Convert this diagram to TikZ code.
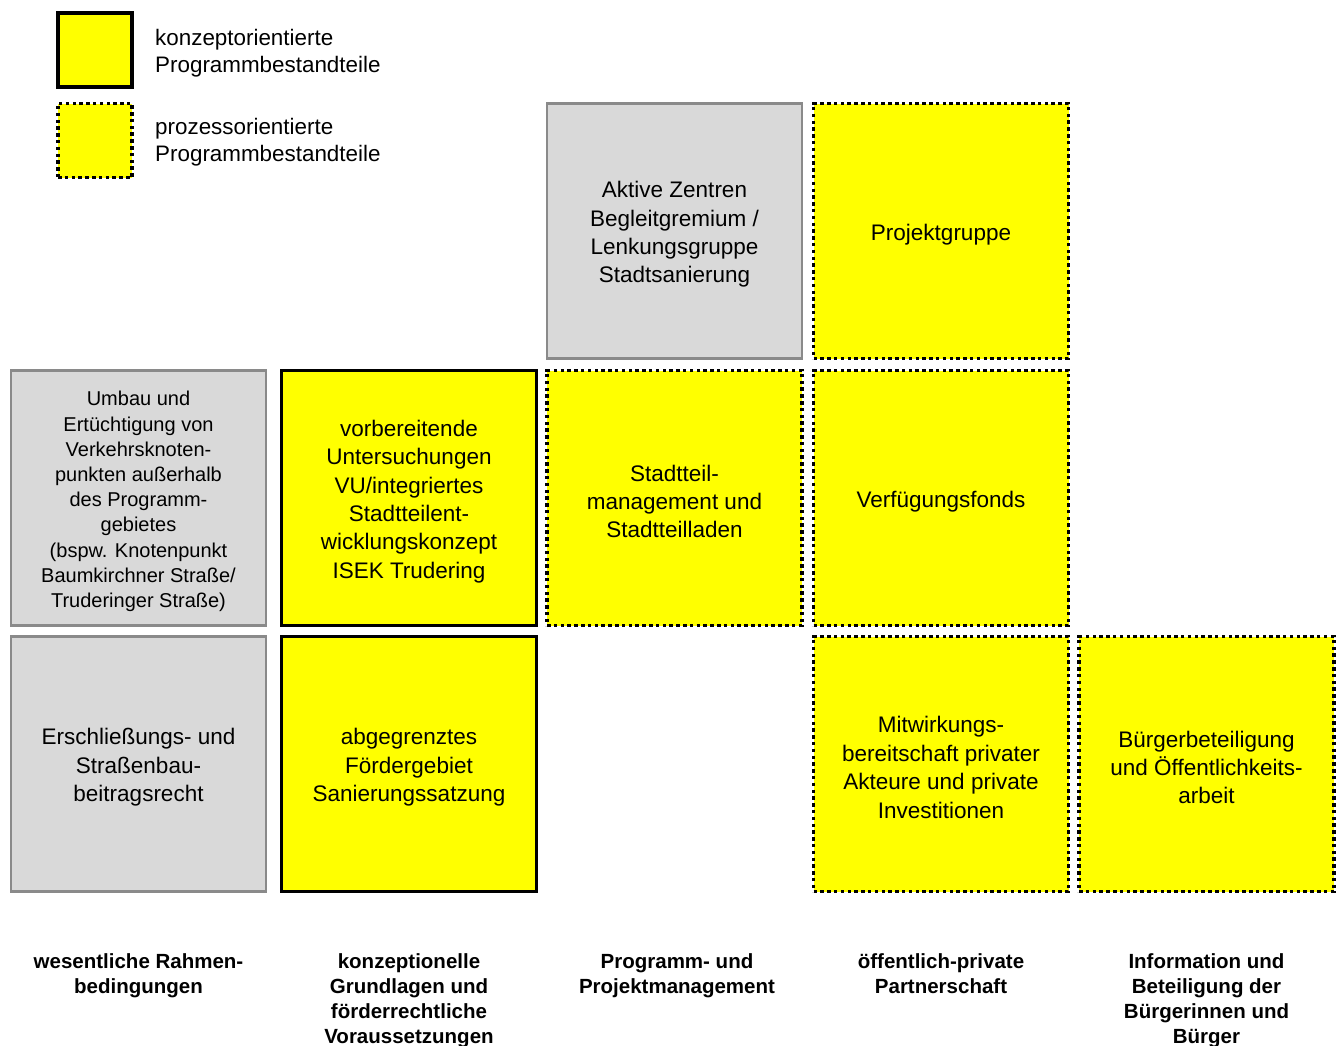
\documentclass[tikz,border=0pt]{standalone}
\usepackage{fontspec}
\setmainfont{Liberation Sans}
\definecolor{boxyellow}{HTML}{FFFF00}
\definecolor{boxgrey}{HTML}{D9D9D9}
\definecolor{greyline}{HTML}{8A8A8A}
\begin{document}
\begin{tikzpicture}[x=1pt,y=-1pt,
  cell/.style={rectangle, minimum width=255pt, minimum height=255pt, inner sep=0pt},
  greybox/.style={cell, fill=boxgrey, draw=greyline, line width=2.2pt},
  solidbox/.style={cell, fill=boxyellow, draw=black, line width=3.2pt},
  dotbox/.style={cell, fill=boxyellow, draw=black, line width=3.8pt, dash pattern=on 3.5pt off 3.3pt},
  celltext/.style={align=center, inner sep=0pt, yshift=-3.5pt, font=\fontsize{22.5}{28.4}\selectfont},
  legsolid/.style={solidbox, minimum width=74pt, minimum height=74pt},
  legdot/.style={dotbox, minimum width=74pt, minimum height=74pt},
  legtext/.style={anchor=west, align=left, inner sep=0pt, font=\fontsize{22.4}{27}\selectfont},
  collabel/.style={anchor=north, align=center, inner sep=0pt, font=\bfseries\fontsize{20.5}{25}\selectfont}
]
\useasboundingbox (0,0) rectangle (1337,1045);
% legend
\node[legsolid] (l1) at (95,50) {};
\node[legdot] (l2) at (95,140.5) {};
\node[legtext] (l1t) at (155,53.5) {konzeptorientierte\\Programmbestandteile};
\node[legtext] (l2t) at (155,142.5) {prozessorientierte\\Programmbestandteile};
% row 1
\node[greybox] (aktive) at (674.5,231) {};
\node[celltext] (aktivet) at (aktive.center) {Aktive Zentren\\Begleitgremium /\\Lenkungsgruppe\\Stadtsanierung};
\node[dotbox] (projekt) at (941,231) {};
\node[celltext] (projektt) at (projekt.center) {Projektgruppe};
% row 2
\node[greybox] (umbau) at (138.5,498) {};
\node[celltext, font=\fontsize{20}{25.2}\selectfont] (umbaut) at (umbau.center) {Umbau und\\Ertüchtigung von\\Verkehrsknoten-\\punkten außerhalb\\des Programm-\\gebietes\\(bspw. Knotenpunkt\\Baumkirchner Straße/\\Truderinger Straße)};
\node[solidbox] (vu) at (409,498) {};
\node[celltext] (vut) at (vu.center) {vorbereitende\\Untersuchungen\\VU/integriertes\\Stadtteilent-\\wicklungskonzept\\ISEK Trudering};
\node[dotbox] (stadtteil) at (674.5,498) {};
\node[celltext] (stadtteilt) at (stadtteil.center) {Stadtteil-\\management und\\Stadtteilladen};
\node[dotbox] (fonds) at (941,498) {};
\node[celltext] (fondst) at (fonds.center) {Verfügungsfonds};
% row 3
\node[greybox] (erschl) at (138.5,764) {};
\node[celltext] (erschlt) at (erschl.center) {Erschließungs- und\\Straßenbau-\\beitragsrecht};
\node[solidbox] (gebiet) at (409,764) {};
\node[celltext] (gebiett) at (gebiet.center) {abgegrenztes\\Fördergebiet\\Sanierungssatzung};
\node[dotbox] (mitwirk) at (941,764) {};
\node[celltext] (mitwirkt) at (mitwirk.center) {Mitwirkungs-\\bereitschaft privater\\Akteure und private\\Investitionen};
\node[dotbox] (buerger) at (1206.5,764) {};
\node[celltext] (buergert) at (buerger.center) {Bürgerbeteiligung\\und Öffentlichkeits-\\arbeit};
% column labels
\node[collabel] (c1) at (138.5,953) {wesentliche Rahmen-\\bedingungen};
\node[collabel] (c2) at (409,953) {konzeptionelle\\Grundlagen und\\förderrechtliche\\Voraussetzungen};
\node[collabel] (c3) at (677,953) {Programm- und\\Projektmanagement};
\node[collabel] (c4) at (941,953) {öffentlich-private\\Partnerschaft};
\node[collabel] (c5) at (1206.5,953) {Information und\\Beteiligung der\\Bürgerinnen und\\Bürger};
\end{tikzpicture}
\end{document}
